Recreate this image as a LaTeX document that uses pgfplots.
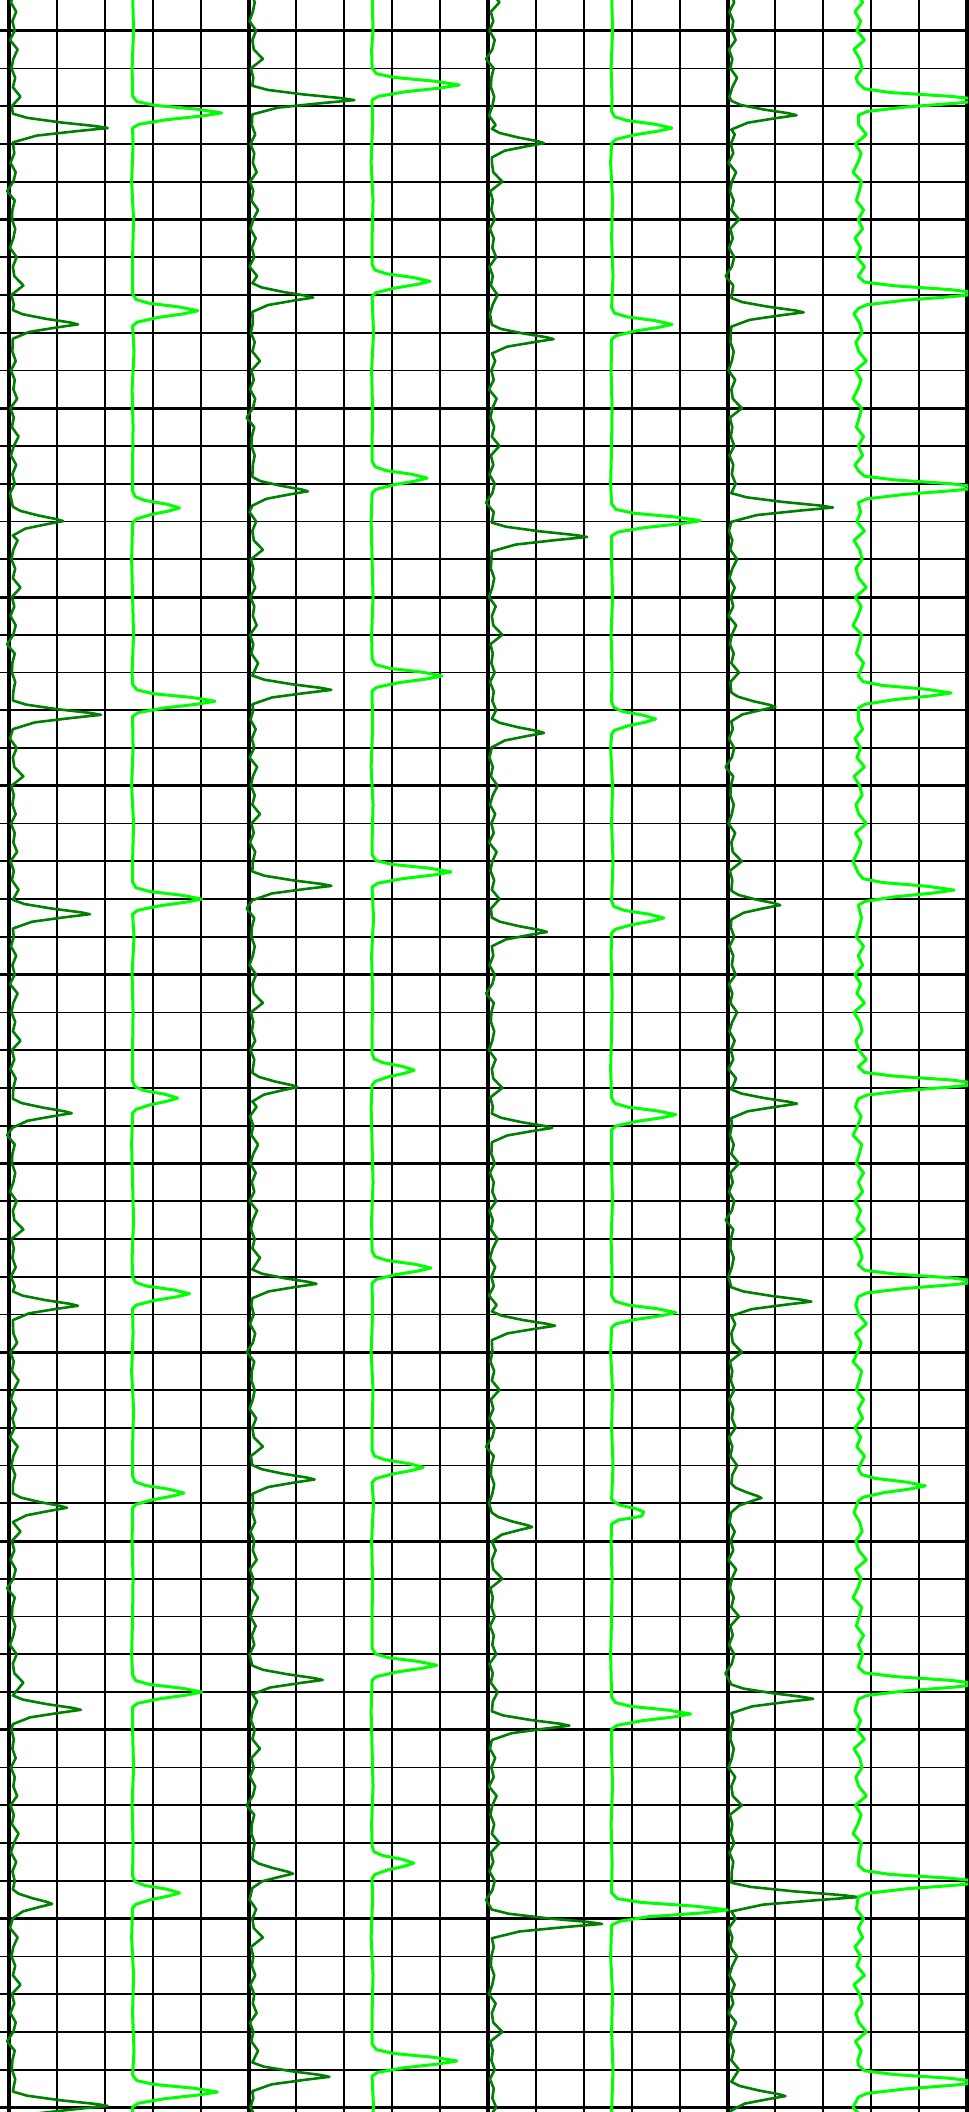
\documentclass[border=0pt]{standalone}
\usepackage{pgfplots}
\pgfplotsset{compat=1.18}
\definecolor{dkg}{RGB}{0,128,0}
\definecolor{ltg}{RGB}{0,255,0}
\begin{document}
\begin{tikzpicture}
\useasboundingbox (0,0) rectangle (484pt,1056pt);
\begin{axis}[
  at={(0pt,0pt)}, anchor=south west,
  scale only axis, width=484pt, height=1056pt,
  xmin=-0.188, xmax=20.021,
  ymin=-0.81, ymax=55.122, y dir=reverse,
  xtick={0,5,10,15,20}, minor x tick num=4,
  ytick={0,5,...,55}, minor y tick num=4,
  xticklabels={}, yticklabels={},
  major tick length=0pt, minor tick length=0pt,
  grid=both,
  major x grid style={black, line width=2pt},
  minor x grid style={black, line width=1pt},
  major y grid style={black, line width=1.5pt},
  minor y grid style={black, line width=0.85pt},
  axis line style={draw=none},
  clip=true,
  every axis plot/.append style={line join=round, mark=none},
]
% ---------- Track 1, dark green ----------
\addplot[dkg, line width=1.3pt] coordinates {
(.10,-1)(.04,-.75)(.15,-.5)(.07,-.25)(.12,0)(.02,.25)(.18,.5)(.09,.75)(.05,1)(.13,1.25)(.08,1.5)(.24,1.75)(.06,2)
(.08,2.20)(.38,2.31)(1.07,2.43)(1.82,2.53)(2.06,2.58)(1.43,2.66)(.58,2.78)(.08,2.96)
(.11,3.25)(.03,3.5)(.14,3.75)(.09,4)(-.04,4.25)(.12,4.5)(.07,4.75)(.06,5)(.13,5.25)(.09,5.5)(.02,5.75)(.16,6)(.08,6.25)(.11,6.5)(.30,6.75)(.05,7)(.10,7.25)
(.08,7.40)(.28,7.51)(.76,7.63)(1.28,7.73)(1.44,7.78)(1.00,7.86)(.42,7.98)(.08,8.16)
(.07,8.5)(.14,8.75)(.04,9)(.12,9.25)(.09,9.5)(.17,9.75)(.03,10)(.10,10.25)(.06,10.5)(.20,10.75)(.10,11)(.04,11.25)(.15,11.5)(.07,11.75)(.12,12)(.02,12.25)
(.08,12.61)(.24,12.72)(.61,12.84)(1.00,12.94)(1.13,12.99)(.79,13.07)(.34,13.19)(.08,13.37)
(.18,13.5)(.09,13.75)(.05,14)(.13,14.25)(.08,14.5)(.24,14.75)(.06,15)(.11,15.25)(.03,15.5)(.14,15.75)(.09,16)(-.04,16.25)(.12,16.5)(.07,16.75)(.06,17)(.13,17.25)(.09,17.5)
(.08,17.74)(.36,17.85)(1.00,17.97)(1.70,18.07)(1.92,18.12)(1.33,18.20)(.54,18.32)(.08,18.50)
(.02,18.75)(.16,19)(.08,19.25)(.11,19.5)(.30,19.75)(.05,20)(.10,20.25)(.07,20.5)(.14,20.75)(.04,21)(.12,21.25)(.09,21.5)(.17,21.75)(.03,22)(.10,22.25)(.06,22.5)(.20,22.75)
(.08,23.02)(.32,23.13)(.89,23.25)(1.50,23.35)(1.69,23.40)(1.17,23.48)(.48,23.60)(.08,23.78)
(.10,24)(.04,24.25)(.15,24.5)(.07,24.75)(.12,25)(.02,25.25)(.18,25.5)(.09,25.75)(.05,26)(.13,26.25)(.08,26.5)(.24,26.75)(.06,27)(.11,27.25)(.03,27.5)(.14,27.75)(.09,28)
(.08,28.29)(.26,28.40)(.70,28.52)(1.16,28.62)(1.31,28.67)(.92,28.75)(.39,28.87)(.08,29.05)
(-.04,29.25)(.12,29.5)(.07,29.75)(.06,30)(.13,30.25)(.09,30.5)(.02,30.75)(.16,31)(.08,31.25)(.11,31.5)(.30,31.75)(.05,32)(.10,32.25)(.07,32.5)(.14,32.75)(.04,33)(.12,33.25)
(.08,33.39)(.28,33.50)(.76,33.62)(1.28,33.72)(1.44,33.77)(1.00,33.85)(.42,33.97)(.08,34.15)
(.09,34.5)(.17,34.75)(.03,35)(.10,35.25)(.06,35.5)(.20,35.75)(.10,36)(.04,36.25)(.15,36.5)(.07,36.75)(.12,37)(.02,37.25)(.18,37.5)(.09,37.75)(.05,38)(.13,38.25)(.08,38.5)
(.08,38.74)(.25,38.85)(.65,38.97)(1.07,39.07)(1.21,39.12)(.85,39.20)(.36,39.32)(.08,39.50)
(.24,39.75)(.06,40)(.11,40.25)(.03,40.5)(.14,40.75)(.09,41)(-.04,41.25)(.12,41.5)(.07,41.75)(.06,42)(.13,42.25)(.09,42.5)(.02,42.75)(.16,43)(.08,43.25)(.11,43.5)(.30,43.75)
(.08,44.09)(.29,44.20)(.79,44.32)(1.33,44.42)(1.50,44.47)(1.05,44.55)(.44,44.67)(.08,44.85)
(.05,45)(.10,45.25)(.07,45.5)(.14,45.75)(.04,46)(.12,46.25)(.09,46.5)(.17,46.75)(.03,47)(.10,47.25)(.06,47.5)(.20,47.75)(.10,48)(.04,48.25)(.15,48.5)(.07,48.75)(.12,49)
(.08,49.23)(.20,49.34)(.49,49.46)(.80,49.56)(.90,49.61)(.64,49.69)(.29,49.81)(.08,49.99)
(.02,50.25)(.18,50.5)(.09,50.75)(.05,51)(.13,51.25)(.08,51.5)(.24,51.75)(.06,52)(.11,52.25)(.03,52.5)(.14,52.75)(.09,53)(-.04,53.25)(.12,53.5)(.07,53.75)(.06,54)(.13,54.25)
(.08,54.58)(.38,54.69)(1.07,54.81)(1.82,54.91)(2.06,54.96)(1.43,55.04)(.58,55.16)(.08,55.34)
};
% ---------- Track 1, bright green ----------
\addplot[ltg, line width=1.5pt] coordinates {
(2.58,-1)(2.60,0)(2.57,1)
(2.58,1.73)(2.67,1.88)(3.05,1.98)(3.92,2.08)(4.44,2.18)(4.03,2.26)(3.29,2.36)(2.71,2.48)(2.58,2.58)
(2.59,3)(2.56,4)(2.60,5)(2.58,6)
(2.58,6.97)(2.65,7.12)(2.92,7.22)(3.56,7.32)(3.94,7.42)(3.64,7.50)(3.10,7.60)(2.68,7.72)(2.58,7.82)
(2.61,8.5)(2.57,9.5)(2.59,10.5)(2.58,11.5)
(2.58,12.19)(2.63,12.34)(2.83,12.44)(3.29,12.54)(3.56,12.64)(3.34,12.72)(2.95,12.82)(2.65,12.94)(2.58,13.04)
(2.56,14)(2.58,15)(2.60,16)(2.57,17)
(2.58,17.31)(2.67,17.46)(3.01,17.56)(3.82,17.66)(4.30,17.76)(3.92,17.84)(3.23,17.94)(2.70,18.06)(2.58,18.16)
(2.59,19)(2.56,20)(2.60,21)(2.58,22)
(2.58,22.55)(2.65,22.70)(2.94,22.80)(3.62,22.90)(4.02,23.00)(3.70,23.08)(3.13,23.18)(2.68,23.30)(2.58,23.40)
(2.61,24)(2.57,25)(2.59,26)(2.58,27)
(2.58,27.82)(2.63,27.97)(2.82,28.07)(3.26,28.17)(3.52,28.27)(3.31,28.35)(2.94,28.45)(2.65,28.57)(2.58,28.67)
(2.56,29.5)(2.58,30.5)(2.60,31.5)(2.57,32.5)
(2.58,33.00)(2.64,33.15)(2.88,33.25)(3.44,33.35)(3.77,33.45)(3.51,33.53)(3.03,33.63)(2.66,33.75)(2.58,33.85)
(2.59,34.5)(2.56,35.5)(2.60,36.5)(2.58,37.5)
(2.58,38.28)(2.63,38.43)(2.85,38.53)(3.35,38.63)(3.65,38.73)(3.41,38.81)(2.99,38.91)(2.65,39.03)(2.58,39.13)
(2.57,40)(2.59,41)(2.58,42)(2.56,43)
(2.58,43.55)(2.65,43.70)(2.94,43.80)(3.62,43.90)(4.02,44.00)(3.70,44.08)(3.13,44.18)(2.68,44.30)(2.58,44.40)
(2.58,45)(2.60,46)(2.57,47)(2.59,48)
(2.58,48.87)(2.63,49.02)(2.83,49.12)(3.29,49.22)(3.56,49.32)(3.34,49.40)(2.95,49.50)(2.65,49.62)(2.58,49.72)
(2.56,50.5)(2.60,51.5)(2.58,52.5)(2.61,53.5)
(2.58,54.14)(2.67,54.29)(3.02,54.39)(3.85,54.49)(4.35,54.59)(3.96,54.67)(3.25,54.77)(2.70,54.89)(2.58,54.99)
(2.57,55.5)
};
% ---------- Track 2, dark green ----------
\addplot[dkg, line width=1.3pt] coordinates {
(5.06,-1)(5.13,-.75)(5.09,-.5)(5.02,-.25)(5.16,0)(5.08,.25)(5.11,.5)(5.30,.75)(5.05,1)(5.10,1.25)
(5.08,1.46)(5.40,1.57)(6.15,1.69)(6.95,1.79)(7.21,1.84)(6.53,1.92)(5.61,2.04)(5.08,2.22)
(5.07,2.5)(5.14,2.75)(5.04,3)(5.12,3.25)(5.09,3.5)(5.17,3.75)(5.03,4)(5.10,4.25)(5.06,4.5)(5.20,4.75)(5.10,5)(5.04,5.25)(5.15,5.5)(5.07,5.75)(5.12,6)(5.02,6.25)(5.18,6.5)
(5.08,6.69)(5.27,6.80)(5.72,6.92)(6.20,7.02)(6.35,7.07)(5.94,7.15)(5.40,7.27)(5.08,7.45)
(5.09,7.75)(5.05,8)(5.13,8.25)(5.08,8.5)(5.24,8.75)(5.06,9)(5.11,9.25)(5.03,9.5)(5.14,9.75)(5.09,10)(4.96,10.25)(5.12,10.5)(5.07,10.75)(5.06,11)(5.13,11.25)(5.09,11.5)
(5.08,11.82)(5.25,11.93)(5.66,12.05)(6.10,12.15)(6.24,12.20)(5.87,12.28)(5.37,12.40)(5.08,12.58)
(5.02,12.75)(5.16,13)(5.08,13.25)(5.11,13.5)(5.30,13.75)(5.05,14)(5.10,14.25)(5.07,14.5)(5.14,14.75)(5.04,15)(5.12,15.25)(5.09,15.5)(5.17,15.75)(5.03,16)(5.10,16.25)(5.06,16.5)(5.20,16.75)
(5.08,17.08)(5.33,17.19)(5.91,17.31)(6.53,17.41)(6.73,17.46)(6.20,17.54)(5.49,17.66)(5.08,17.84)
(5.10,18)(5.04,18.25)(5.15,18.5)(5.07,18.75)(5.12,19)(5.02,19.25)(5.18,19.5)(5.09,19.75)(5.05,20)(5.13,20.25)(5.08,20.5)(5.24,20.75)(5.06,21)(5.11,21.25)(5.03,21.5)(5.14,21.75)(5.09,22)
(5.08,22.27)(5.33,22.38)(5.91,22.50)(6.53,22.60)(6.73,22.65)(6.20,22.73)(5.49,22.85)(5.08,23.03)
(4.96,23.25)(5.12,23.5)(5.07,23.75)(5.06,24)(5.13,24.25)(5.09,24.5)(5.02,24.75)(5.16,25)(5.08,25.25)(5.11,25.5)(5.30,25.75)(5.05,26)(5.10,26.25)(5.07,26.5)(5.14,26.75)(5.04,27)(5.12,27.25)(5.09,27.5)
(5.08,27.60)(5.22,27.71)(5.55,27.83)(5.91,27.93)(6.02,27.98)(5.72,28.06)(5.32,28.18)(5.08,28.36)
(5.17,28.5)(5.03,28.75)(5.10,29)(5.06,29.25)(5.20,29.5)(5.10,29.75)(5.04,30)(5.15,30.25)(5.07,30.5)(5.12,30.75)(5.02,31)(5.18,31.25)(5.09,31.5)(5.05,31.75)(5.13,32)(5.08,32.25)(5.24,32.5)
(5.08,32.81)(5.28,32.92)(5.75,33.04)(6.26,33.14)(6.42,33.19)(5.99,33.27)(5.42,33.39)(5.08,33.57)
(5.06,33.75)(5.11,34)(5.03,34.25)(5.14,34.5)(5.09,34.75)(4.96,35)(5.12,35.25)(5.07,35.5)(5.06,35.75)(5.13,36)(5.09,36.25)(5.02,36.5)(5.16,36.75)(5.08,37)(5.11,37.25)(5.30,37.5)(5.05,37.75)
(5.08,37.99)(5.28,38.10)(5.73,38.22)(6.22,38.32)(6.38,38.37)(5.96,38.45)(5.41,38.57)(5.08,38.75)
(5.10,39)(5.07,39.25)(5.14,39.5)(5.04,39.75)(5.12,40)(5.09,40.25)(5.17,40.5)(5.03,40.75)(5.10,41)(5.06,41.25)(5.20,41.5)(5.10,41.75)(5.04,42)(5.15,42.25)(5.07,42.5)(5.12,42.75)(5.02,43)
(5.08,43.30)(5.30,43.41)(5.82,43.53)(6.37,43.63)(6.55,43.68)(6.08,43.76)(5.45,43.88)(5.08,44.06)
(5.18,44.25)(5.09,44.5)(5.05,44.75)(5.13,45)(5.08,45.25)(5.24,45.5)(5.06,45.75)(5.11,46)(5.03,46.25)(5.14,46.5)(5.09,46.75)(4.96,47)(5.12,47.25)(5.07,47.5)(5.06,47.75)(5.13,48)(5.09,48.25)
(5.08,48.43)(5.21,48.54)(5.51,48.66)(5.83,48.76)(5.93,48.81)(5.66,48.89)(5.29,49.01)(5.08,49.19)
(5.02,49.5)(5.16,49.75)(5.08,50)(5.11,50.25)(5.30,50.5)(5.05,50.75)(5.10,51)(5.07,51.25)(5.14,51.5)(5.04,51.75)(5.12,52)(5.09,52.25)(5.17,52.5)(5.03,52.75)(5.10,53)(5.06,53.25)(5.20,53.5)
(5.08,53.81)(5.32,53.92)(5.89,54.04)(6.50,54.14)(6.69,54.19)(6.17,54.27)(5.48,54.39)(5.08,54.57)
(5.10,54.75)(5.04,55)(5.15,55.25)
};
% ---------- Track 2, bright green ----------
\addplot[ltg, line width=1.5pt] coordinates {
(7.58,-1)(7.60,0)(7.57,0.5)
(7.58,0.99)(7.67,1.14)(8.04,1.24)(8.89,1.34)(9.40,1.44)(9.00,1.52)(8.27,1.62)(7.71,1.74)(7.58,1.84)
(7.59,2.5)(7.56,3.5)(7.60,4.5)(7.58,5.5)
(7.58,6.19)(7.64,6.34)(7.88,6.44)(8.45,6.54)(8.79,6.64)(8.52,6.72)(8.05,6.82)(7.66,6.94)(7.58,7.04)
(7.61,8)(7.57,9)(7.59,10)(7.58,11)
(7.58,11.40)(7.64,11.55)(7.87,11.65)(8.41,11.75)(8.73,11.85)(8.48,11.93)(8.02,12.03)(7.66,12.15)(7.58,12.25)
(7.56,13)(7.58,14)(7.60,15)(7.57,16)
(7.58,16.64)(7.65,16.79)(7.95,16.89)(8.63,16.99)(9.04,17.09)(8.72,17.17)(8.13,17.27)(7.68,17.39)(7.58,17.49)
(7.59,18.5)(7.56,19.5)(7.60,20.5)(7.58,21.5)
(7.58,21.83)(7.66,21.98)(7.99,22.08)(8.77,22.18)(9.23,22.28)(8.87,22.36)(8.21,22.46)(7.70,22.58)(7.58,22.68)
(7.61,23.5)(7.57,24.5)(7.59,25.5)(7.58,26.5)
(7.58,27.08)(7.62,27.23)(7.80,27.33)(8.21,27.43)(8.46,27.53)(8.27,27.61)(7.91,27.71)(7.64,27.83)(7.58,27.93)
(7.56,28.5)(7.58,29.5)(7.60,30.5)(7.57,31.5)
(7.58,32.32)(7.64,32.47)(7.89,32.57)(8.47,32.67)(8.81,32.77)(8.54,32.85)(8.05,32.95)(7.67,33.07)(7.58,33.17)
(7.59,34)(7.56,35)(7.60,36)(7.58,37)
(7.58,37.60)(7.63,37.75)(7.85,37.85)(8.35,37.95)(8.65,38.05)(8.41,38.13)(7.99,38.23)(7.65,38.35)(7.58,38.45)
(7.61,39)(7.57,40)(7.59,41)(7.58,42)
(7.58,42.84)(7.65,42.99)(7.92,43.09)(8.55,43.19)(8.93,43.29)(8.63,43.37)(8.09,43.47)(7.67,43.59)(7.58,43.69)
(7.56,44.5)(7.58,45.5)(7.60,46.5)(7.57,47.5)
(7.58,48.08)(7.62,48.23)(7.80,48.33)(8.21,48.43)(8.45,48.53)(8.26,48.61)(7.91,48.71)(7.64,48.83)(7.58,48.93)
(7.59,49.5)(7.56,50.5)(7.60,51.5)(7.58,52.5)
(7.58,53.32)(7.67,53.47)(8.02,53.57)(8.85,53.67)(9.35,53.77)(8.96,53.85)(8.25,53.95)(7.70,54.07)(7.58,54.17)
(7.61,55)(7.57,55.5)
};
% ---------- Track 3, dark green ----------
\addplot[dkg, line width=1.3pt] coordinates {
(10.08,-1)(10.24,-.75)(10.06,-.5)(10.11,-.25)(10.03,0)(10.14,.25)(10.09,.5)(9.96,.75)(10.12,1)(10.07,1.25)(10.06,1.5)(10.13,1.75)(10.09,2)(10.02,2.25)(10.16,2.5)
(10.08,2.60)(10.24,2.71)(10.63,2.83)(11.04,2.93)(11.17,2.98)(10.82,3.06)(10.35,3.18)(10.08,3.36)
(10.08,3.5)(10.11,3.75)(10.30,4)(10.05,4.25)(10.10,4.5)(10.07,4.75)(10.14,5)(10.04,5.25)(10.12,5.5)(10.09,5.75)(10.17,6)(10.03,6.25)(10.10,6.5)(10.06,6.75)(10.20,7)(10.10,7.25)(10.04,7.5)
(10.08,7.79)(10.27,7.90)(10.73,8.02)(11.22,8.12)(11.37,8.17)(10.96,8.25)(10.40,8.37)(10.08,8.55)
(10.15,8.75)(10.07,9)(10.12,9.25)(10.02,9.5)(10.18,9.75)(10.09,10)(10.05,10.25)(10.13,10.5)(10.08,10.75)(10.24,11)(10.06,11.25)(10.11,11.5)(10.03,11.75)(10.14,12)(10.09,12.25)(9.96,12.5)(10.12,12.75)
(10.08,13.03)(10.38,13.14)(11.08,13.26)(11.83,13.36)(12.07,13.41)(11.43,13.49)(10.58,13.61)(10.08,13.79)
(10.07,14)(10.06,14.25)(10.13,14.5)(10.09,14.75)(10.02,15)(10.16,15.25)(10.08,15.5)(10.11,15.75)(10.30,16)(10.05,16.25)(10.10,16.5)(10.07,16.75)(10.14,17)(10.04,17.25)(10.12,17.5)(10.09,17.75)(10.17,18)
(10.08,18.22)(10.24,18.33)(10.63,18.45)(11.04,18.55)(11.17,18.60)(10.82,18.68)(10.35,18.80)(10.08,18.98)
(10.03,19.25)(10.10,19.5)(10.06,19.75)(10.20,20)(10.10,20.25)(10.04,20.5)(10.15,20.75)(10.07,21)(10.12,21.25)(10.02,21.5)(10.18,21.75)(10.09,22)(10.05,22.25)(10.13,22.5)(10.08,22.75)(10.24,23)(10.06,23.25)
(10.08,23.49)(10.25,23.60)(10.66,23.72)(11.09,23.82)(11.23,23.87)(10.86,23.95)(10.37,24.07)(10.08,24.25)
(10.11,24.5)(10.03,24.75)(10.14,25)(10.09,25.25)(9.96,25.5)(10.12,25.75)(10.07,26)(10.06,26.25)(10.13,26.5)(10.09,26.75)(10.02,27)(10.16,27.25)(10.08,27.5)(10.11,27.75)(10.30,28)(10.05,28.25)(10.10,28.5)
(10.08,28.68)(10.27,28.79)(10.71,28.91)(11.19,29.01)(11.34,29.06)(10.94,29.14)(10.40,29.26)(10.08,29.44)
(10.07,29.75)(10.14,30)(10.04,30.25)(10.12,30.5)(10.09,30.75)(10.17,31)(10.03,31.25)(10.10,31.5)(10.06,31.75)(10.20,32)(10.10,32.25)(10.04,32.5)(10.15,32.75)(10.07,33)(10.12,33.25)(10.02,33.5)(10.18,33.75)
(10.08,33.92)(10.28,34.03)(10.74,34.15)(11.24,34.25)(11.40,34.30)(10.98,34.38)(10.41,34.50)(10.08,34.68)
(10.09,35)(10.05,35.25)(10.13,35.5)(10.08,35.75)(10.24,36)(10.06,36.25)(10.11,36.5)(10.03,36.75)(10.14,37)(10.09,37.25)(9.96,37.5)(10.12,37.75)(10.07,38)(10.06,38.25)(10.13,38.5)(10.09,38.75)(10.02,39)
(10.08,39.25)(10.21,39.36)(10.50,39.48)(10.82,39.58)(10.92,39.63)(10.65,39.71)(10.29,39.83)(10.08,40.01)
(10.16,40.25)(10.08,40.5)(10.11,40.75)(10.30,41)(10.05,41.25)(10.10,41.5)(10.07,41.75)(10.14,42)(10.04,42.25)(10.12,42.5)(10.09,42.75)(10.17,43)(10.03,43.25)(10.10,43.5)(10.06,43.75)(10.20,44)(10.10,44.25)
(10.08,44.51)(10.32,44.62)(10.89,44.74)(11.51,44.84)(11.70,44.89)(11.18,44.97)(10.49,45.09)(10.08,45.27)
(10.04,45.5)(10.15,45.75)(10.07,46)(10.12,46.25)(10.02,46.5)(10.18,46.75)(10.09,47)(10.05,47.25)(10.13,47.5)(10.08,47.75)(10.24,48)(10.06,48.25)(10.11,48.5)(10.03,48.75)(10.14,49)(10.09,49.25)(9.96,49.5)
(10.08,49.76)(10.43,49.87)(11.23,49.99)(12.10,50.09)(12.38,50.14)(11.64,50.22)(10.66,50.34)(10.08,50.52)
(10.12,50.75)(10.07,51)(10.06,51.25)(10.13,51.5)(10.09,51.75)(10.02,52)(10.16,52.25)(10.08,52.5)(10.11,52.75)(10.30,53)(10.05,53.25)(10.10,53.5)(10.07,53.75)(10.14,54)(10.04,54.25)(10.12,54.5)(10.09,54.75)(10.17,55)(10.03,55.25)
};
% ---------- Track 3, bright green ----------
\addplot[ltg, line width=1.5pt] coordinates {
(12.58,-1)(12.60,0)(12.57,1)(12.59,1.8)
(12.58,2.13)(12.64,2.28)(12.90,2.38)(13.49,2.48)(13.84,2.58)(13.56,2.66)(13.06,2.76)(12.67,2.88)(12.58,2.98)
(12.56,3.5)(12.60,4.5)(12.58,5.5)(12.61,6.5)
(12.58,7.33)(12.64,7.48)(12.90,7.58)(13.49,7.68)(13.84,7.78)(13.56,7.86)(13.06,7.96)(12.67,8.08)(12.58,8.18)
(12.57,9)(12.59,10)(12.58,11)(12.56,12)
(12.58,12.53)(12.67,12.68)(13.04,12.78)(13.91,12.88)(14.43,12.98)(14.02,13.06)(13.28,13.16)(12.71,13.28)(12.58,13.38)
(12.58,14)(12.60,15)(12.57,16)(12.59,17)
(12.58,17.78)(12.63,17.93)(12.81,18.03)(13.24,18.13)(13.50,18.23)(13.30,18.31)(12.93,18.41)(12.64,18.53)(12.58,18.63)
(12.56,19)(12.60,20)(12.58,21)(12.61,22)
(12.58,23.05)(12.63,23.20)(12.85,23.30)(13.36,23.40)(13.67,23.50)(13.43,23.58)(13.00,23.68)(12.66,23.80)(12.58,23.90)
(12.57,24.5)(12.59,25.5)(12.58,26.5)(12.56,27.5)
(12.58,28.26)(12.65,28.41)(12.92,28.51)(13.54,28.61)(13.92,28.71)(13.63,28.79)(13.09,28.89)(12.67,29.01)(12.58,29.11)
(12.58,30)(12.60,31)(12.57,32)(12.59,33)
(12.58,33.50)(12.65,33.65)(12.92,33.75)(13.54,33.85)(13.92,33.95)(13.63,34.03)(13.09,34.13)(12.67,34.25)(12.58,34.35)
(12.56,35)(12.60,36)(12.58,37)(12.61,38)
(12.58,38.90)(12.73,39.04)(13.10,39.15)(13.25,39.23)(13.21,39.34)(13.00,39.39)(12.73,39.44)(12.58,39.55)
(12.57,40)(12.59,41)(12.58,42)(12.56,43)
(12.58,44.13)(12.66,44.28)(12.99,44.38)(13.77,44.48)(14.23,44.58)(13.87,44.66)(13.21,44.76)(12.70,44.88)(12.58,44.98)
(12.58,45.5)(12.60,46.5)(12.57,47.5)(12.59,48.5)
(12.58,49.32)(12.70,49.47)(13.19,49.57)(14.32,49.67)(15.0,49.77)(14.47,49.85)(13.35,49.95)(12.75,50.07)(12.58,50.17)
(12.56,51)(12.60,52)(12.58,53)(12.61,54)(12.57,55.5)
};
% ---------- Track 4, dark green ----------
\addplot[dkg, line width=1.3pt] coordinates {
(15.07,-1)(15.14,-.75)(15.04,-.5)(15.12,-.25)(15.09,0)(15.17,.25)(15.03,.5)(15.10,.75)(15.06,1)(15.20,1.25)(15.10,1.5)(15.04,1.75)
(15.08,1.86)(15.28,1.97)(15.76,2.09)(16.28,2.19)(16.44,2.24)(16.00,2.32)(15.42,2.44)(15.08,2.62)
(15.15,2.75)(15.07,3)(15.12,3.25)(15.02,3.5)(15.18,3.75)(15.09,4)(15.05,4.25)(15.13,4.5)(15.08,4.75)(15.24,5)(15.06,5.25)(15.11,5.5)(15.03,5.75)(15.14,6)(15.09,6.25)(14.96,6.5)(15.12,6.75)
(15.08,7.08)(15.31,7.19)(15.84,7.31)(16.41,7.41)(16.59,7.46)(16.11,7.54)(15.46,7.66)(15.08,7.84)
(15.07,8)(15.06,8.25)(15.13,8.5)(15.09,8.75)(15.02,9)(15.16,9.25)(15.08,9.5)(15.11,9.75)(15.30,10)(15.05,10.25)(15.10,10.5)(15.07,10.75)(15.14,11)(15.04,11.25)(15.12,11.5)(15.09,11.75)(15.17,12)
(15.08,12.25)(15.40,12.36)(16.14,12.48)(16.95,12.58)(17.20,12.63)(16.52,12.71)(15.61,12.83)(15.08,13.01)
(15.03,13.25)(15.10,13.5)(15.06,13.75)(15.20,14)(15.10,14.25)(15.04,14.5)(15.15,14.75)(15.07,15)(15.12,15.25)(15.02,15.5)(15.18,15.75)(15.09,16)(15.05,16.25)(15.13,16.5)(15.08,16.75)(15.24,17)(15.06,17.25)
(15.08,17.53)(15.22,17.64)(15.54,17.76)(15.89,17.86)(16.00,17.91)(15.71,17.99)(15.31,18.11)(15.08,18.29)
(15.11,18.5)(15.03,18.75)(15.14,19)(15.09,19.25)(14.96,19.5)(15.12,19.75)(15.07,20)(15.06,20.25)(15.13,20.5)(15.09,20.75)(15.02,21)(15.16,21.25)(15.08,21.5)(15.11,21.75)(15.30,22)(15.05,22.25)(15.10,22.5)
(15.08,22.78)(15.23,22.89)(15.59,23.01)(15.98,23.11)(16.10,23.16)(15.77,23.24)(15.34,23.36)(15.08,23.54)
(15.07,23.75)(15.14,24)(15.04,24.25)(15.12,24.5)(15.09,24.75)(15.17,25)(15.03,25.25)(15.10,25.5)(15.06,25.75)(15.20,26)(15.10,26.25)(15.04,26.5)(15.15,26.75)(15.07,27)(15.12,27.25)(15.02,27.5)(15.18,27.75)
(15.08,28.04)(15.29,28.15)(15.77,28.27)(16.29,28.37)(16.45,28.42)(16.01,28.50)(15.42,28.62)(15.08,28.80)
(15.09,29)(15.05,29.25)(15.13,29.5)(15.08,29.75)(15.24,30)(15.06,30.25)(15.11,30.5)(15.03,30.75)(15.14,31)(15.09,31.25)(14.96,31.5)(15.12,31.75)(15.07,32)(15.06,32.25)(15.13,32.5)(15.09,32.75)(15.02,33)
(15.08,33.28)(15.33,33.39)(15.92,33.51)(16.55,33.61)(16.75,33.66)(16.22,33.74)(15.50,33.86)(15.08,34.04)
(15.16,34.25)(15.08,34.5)(15.11,34.75)(15.30,35)(15.05,35.25)(15.10,35.5)(15.07,35.75)(15.14,36)(15.04,36.25)(15.12,36.5)(15.09,36.75)(15.17,37)(15.03,37.25)(15.10,37.5)(15.06,37.75)(15.20,38)(15.10,38.25)
(15.08,38.48)(15.17,38.59)(15.40,38.71)(15.63,38.81)(15.71,38.86)(15.51,38.94)(15.24,39.06)(15.08,39.24)
(15.04,39.5)(15.15,39.75)(15.07,40)(15.12,40.25)(15.02,40.5)(15.18,40.75)(15.09,41)(15.05,41.25)(15.13,41.5)(15.08,41.75)(15.24,42)(15.06,42.25)(15.11,42.5)(15.03,42.75)(15.14,43)(15.09,43.25)(14.96,43.5)
(15.08,43.80)(15.34,43.91)(15.94,44.03)(16.58,44.13)(16.79,44.18)(16.24,44.26)(15.51,44.38)(15.08,44.56)
(15.12,44.75)(15.07,45)(15.06,45.25)(15.13,45.5)(15.09,45.75)(15.02,46)(15.16,46.25)(15.08,46.5)(15.11,46.75)(15.30,47)(15.05,47.25)(15.10,47.5)(15.07,47.75)(15.14,48)(15.04,48.25)(15.12,48.5)(15.09,48.75)
(15.08,49.05)(15.48,49.16)(16.41,49.28)(17.41,49.38)(17.73,49.43)(16.88,49.51)(15.74,49.63)(15.08,49.81)
(15.17,50)(15.03,50.25)(15.10,50.5)(15.06,50.75)(15.20,51)(15.10,51.25)(15.04,51.5)(15.15,51.75)(15.07,52)(15.12,52.25)(15.02,52.5)(15.18,52.75)(15.09,53)(15.05,53.25)(15.13,53.5)(15.08,53.75)(15.24,54)
(15.08,54.32)(15.25,54.43)(15.65,54.55)(16.07,54.65)(16.21,54.70)(15.85,54.78)(15.36,54.90)(15.08,55.08)
(15.06,55.25)
};
% ---------- Track 4, bright green ----------
\addplot[ltg, line width=1.5pt] coordinates {
(17.73,-1)(17.82,-.75)(17.66,-.5)(17.78,-.25)(17.70,0)(17.86,.25)(17.64,.5)(17.76,.75)(17.81,1)(17.68,1.25)
(17.73,1.39)(17.86,1.54)(18.40,1.64)(19.65,1.74)(20.4,1.84)(19.81,1.92)(18.74,2.02)(17.92,2.14)(17.73,2.24)
(17.74,2.5)(17.90,2.75)(17.67,3)(17.79,3.25)(17.72,3.5)(17.62,3.75)(17.80,4)(17.75,4.25)(17.69,4.5)(17.84,4.75)(17.73,5)(17.82,5.25)(17.66,5.5)(17.78,5.75)(17.70,6)(17.86,6.25)
(17.73,6.51)(17.86,6.66)(18.50,6.76)(19.66,6.86)(20.3,6.96)(19.73,7.04)(18.71,7.14)(17.91,7.26)(17.73,7.36)
(17.64,7.5)(17.76,7.75)(17.81,8)(17.68,8.25)(17.74,8.5)(17.90,8.75)(17.67,9)(17.79,9.25)(17.72,9.5)(17.62,9.75)(17.80,10)(17.75,10.25)(17.69,10.5)(17.84,10.75)(17.73,11)(17.82,11.25)(17.66,11.5)
(17.73,11.65)(17.86,11.80)(18.50,11.90)(19.66,12.00)(20.3,12.10)(19.73,12.18)(18.71,12.28)(17.91,12.40)(17.73,12.50)
(17.78,12.75)(17.70,13)(17.86,13.25)(17.64,13.5)(17.76,13.75)(17.81,14)(17.68,14.25)(17.74,14.5)(17.90,14.75)(17.67,15)(17.79,15.25)(17.72,15.5)(17.62,15.75)(17.80,16)(17.75,16.25)(17.69,16.5)(17.84,16.75)
(17.73,17.09)(17.83,17.24)(18.22,17.34)(19.13,17.44)(19.67,17.54)(19.24,17.62)(18.47,17.72)(17.87,17.84)(17.73,17.94)
(17.73,18.25)(17.82,18.5)(17.66,18.75)(17.78,19)(17.70,19.25)(17.86,19.5)(17.64,19.75)(17.76,20)(17.81,20.25)(17.68,20.5)(17.74,20.75)(17.90,21)(17.67,21.25)(17.79,21.5)(17.72,21.75)(17.62,22)
(17.73,22.31)(17.83,22.46)(18.23,22.56)(19.17,22.66)(19.73,22.76)(19.29,22.84)(18.49,22.94)(17.87,23.06)(17.73,23.16)
(17.80,23.5)(17.75,23.75)(17.69,24)(17.84,24.25)(17.73,24.5)(17.82,24.75)(17.66,25)(17.78,25.25)(17.70,25.5)(17.86,25.75)(17.64,26)(17.76,26.25)(17.81,26.5)(17.68,26.75)(17.74,27)(17.90,27.25)
(17.73,27.44)(17.86,27.59)(18.50,27.69)(19.66,27.79)(20.3,27.89)(19.73,27.97)(18.71,28.07)(17.91,28.19)(17.73,28.29)
(17.67,28.5)(17.79,28.75)(17.72,29)(17.62,29.25)(17.80,29.5)(17.75,29.75)(17.69,30)(17.84,30.25)(17.73,30.5)(17.82,30.75)(17.66,31)(17.78,31.25)(17.70,31.5)(17.86,31.75)(17.64,32)(17.76,32.25)(17.81,32.5)
(17.73,32.68)(17.86,32.83)(18.50,32.93)(19.66,33.03)(20.3,33.13)(19.73,33.21)(18.71,33.31)(17.91,33.43)(17.73,33.53)
(17.68,33.75)(17.74,34)(17.90,34.25)(17.67,34.5)(17.79,34.75)(17.72,35)(17.62,35.25)(17.80,35.5)(17.75,35.75)(17.69,36)(17.84,36.25)(17.73,36.5)(17.82,36.75)(17.66,37)(17.78,37.25)(17.70,37.5)(17.86,37.75)
(17.73,38.09)(17.80,38.24)(18.08,38.34)(18.74,38.44)(19.13,38.54)(18.82,38.62)(18.26,38.72)(17.83,38.84)(17.73,38.94)
(17.64,39.25)(17.76,39.5)(17.81,39.75)(17.68,40)(17.74,40.25)(17.90,40.5)(17.67,40.75)(17.79,41)(17.72,41.25)(17.62,41.5)(17.80,41.75)(17.75,42)(17.69,42.25)(17.84,42.5)(17.73,42.75)(17.82,43)
(17.73,43.34)(17.86,43.49)(18.50,43.59)(19.66,43.69)(20.3,43.79)(19.73,43.87)(18.71,43.97)(17.91,44.09)(17.73,44.19)
(17.66,44.5)(17.78,44.75)(17.70,45)(17.86,45.25)(17.64,45.5)(17.76,45.75)(17.81,46)(17.68,46.25)(17.74,46.5)(17.90,46.75)(17.67,47)(17.79,47.25)(17.72,47.5)(17.62,47.75)(17.80,48)(17.75,48.25)
(17.73,48.58)(17.86,48.73)(18.40,48.83)(19.65,48.93)(20.4,49.03)(19.81,49.11)(18.74,49.21)(17.92,49.33)(17.73,49.43)
(17.69,49.75)(17.84,50)(17.73,50.25)(17.82,50.5)(17.66,50.75)(17.78,51)(17.70,51.25)(17.86,51.5)(17.64,51.75)(17.76,52)(17.81,52.25)(17.68,52.5)(17.74,52.75)(17.90,53)(17.67,53.25)(17.79,53.5)(17.72,53.75)
(17.73,53.88)(17.86,54.03)(18.50,54.13)(19.66,54.23)(20.3,54.33)(19.73,54.41)(18.71,54.51)(17.91,54.63)(17.73,54.73)
(17.62,55)(17.80,55.25)
};
\end{axis}
\end{tikzpicture}
\end{document}
